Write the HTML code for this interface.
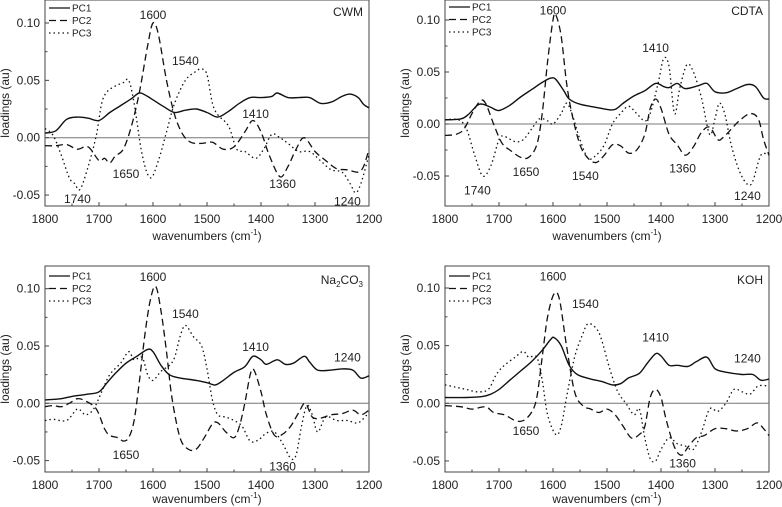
<!DOCTYPE html>
<html><head><meta charset="utf-8"><style>
html,body{margin:0;padding:0;background:#fff;}
svg{display:block;font-family:"Liberation Sans",Arial,sans-serif;}
</style></head><body>
<svg id="chart" width="782" height="507" viewBox="0 0 782 507" xmlns="http://www.w3.org/2000/svg"></svg>
<script>
// ---- data (wavenumber / loading pairs) ----
const xTicks = [1800,1700,1600,1500,1400,1300,1200];
const yTicks = [-0.05,0.00,0.05,0.10];
const panelTitles = ["CWM","CDTA","Na2CO3","KOH"];

const cwmPC1 = [[1800,0.004],[1780,0.006],[1760,0.016],[1740,0.018],[1720,0.017],[1700,0.015],[1680,0.022],[1660,0.028],[1640,0.034],[1625,0.039],[1610,0.036],[1600,0.033],[1580,0.027],[1560,0.022],[1540,0.024],[1520,0.025],[1500,0.022],[1480,0.018],[1460,0.023],[1440,0.030],[1420,0.035],[1400,0.035],[1380,0.036],[1370,0.039],[1350,0.035],[1330,0.035],[1310,0.035],[1290,0.030],[1270,0.031],[1250,0.036],[1235,0.038],[1220,0.035],[1210,0.029],[1200,0.026]];
const cwmPC2 = [[1800,-0.007],[1780,-0.007],[1760,-0.006],[1740,-0.010],[1720,-0.008],[1700,-0.020],[1690,-0.018],[1680,-0.022],[1670,-0.016],[1655,-0.010],[1640,0.010],[1625,0.040],[1610,0.080],[1600,0.100],[1590,0.090],[1575,0.050],[1560,0.020],[1545,0.003],[1530,-0.004],[1510,-0.005],[1490,-0.004],[1470,-0.010],[1450,-0.008],[1430,0.005],[1415,0.015],[1400,0.005],[1385,-0.015],[1365,-0.034],[1350,-0.025],[1335,-0.010],[1320,0.000],[1300,-0.012],[1280,-0.020],[1260,-0.027],[1240,-0.028],[1220,-0.030],[1210,-0.025],[1200,-0.010]];
const cwmPC3 = [[1800,0.008],[1785,0.002],[1770,-0.015],[1755,-0.035],[1745,-0.040],[1735,-0.045],[1720,-0.025],[1705,0.002],[1695,0.030],[1685,0.040],[1670,0.045],[1655,0.048],[1645,0.050],[1635,0.030],[1620,-0.015],[1605,-0.035],[1590,-0.020],[1575,0.005],[1560,0.030],[1540,0.050],[1520,0.058],[1510,0.060],[1500,0.055],[1490,0.030],[1480,0.020],[1460,0.010],[1445,-0.010],[1430,-0.012],[1410,-0.018],[1395,-0.010],[1380,0.003],[1365,0.000],[1350,-0.005],[1330,-0.012],[1310,-0.012],[1290,-0.020],[1270,-0.028],[1250,-0.030],[1235,-0.040],[1225,-0.048],[1215,-0.040],[1200,-0.015]];

const cdtaPC1 = [[1800,0.004],[1770,0.005],[1755,0.010],[1740,0.018],[1730,0.019],[1715,0.016],[1700,0.013],[1680,0.018],[1660,0.026],[1640,0.033],[1620,0.040],[1605,0.044],[1595,0.043],[1580,0.032],[1570,0.024],[1550,0.019],[1520,0.016],[1500,0.014],[1485,0.014],[1470,0.020],[1450,0.027],[1430,0.032],[1410,0.039],[1395,0.036],[1385,0.035],[1370,0.039],[1355,0.034],[1330,0.037],[1315,0.039],[1300,0.031],[1280,0.030],[1260,0.034],[1240,0.038],[1225,0.036],[1210,0.025],[1200,0.024]];
const cdtaPC2 = [[1800,-0.011],[1780,-0.010],[1765,-0.005],[1750,0.010],[1735,0.022],[1725,0.020],[1710,0.000],[1695,-0.018],[1680,-0.025],[1660,-0.032],[1645,-0.032],[1630,-0.020],[1620,0.010],[1610,0.060],[1600,0.100],[1595,0.105],[1585,0.085],[1575,0.040],[1565,0.010],[1550,-0.020],[1535,-0.033],[1520,-0.037],[1505,-0.030],[1490,-0.020],[1475,-0.021],[1460,-0.028],[1445,-0.025],[1430,-0.010],[1420,0.015],[1410,0.024],[1400,0.015],[1385,-0.010],[1370,-0.020],[1355,-0.030],[1340,-0.022],[1325,-0.008],[1310,-0.003],[1295,-0.015],[1285,-0.013],[1270,-0.005],[1255,0.003],[1235,0.010],[1220,0.005],[1210,-0.015],[1200,-0.030]];
const cdtaPC3 = [[1800,0.004],[1775,0.004],[1760,-0.005],[1745,-0.030],[1730,-0.050],[1715,-0.040],[1700,-0.015],[1690,-0.012],[1670,-0.017],[1655,-0.015],[1640,-0.005],[1625,0.005],[1610,0.003],[1600,0.000],[1585,0.010],[1575,0.020],[1565,0.010],[1550,-0.015],[1535,-0.033],[1520,-0.030],[1505,-0.020],[1490,0.000],[1475,0.010],[1460,0.017],[1445,0.010],[1430,0.003],[1420,0.010],[1405,0.040],[1395,0.063],[1385,0.055],[1375,0.010],[1365,0.035],[1352,0.057],[1340,0.050],[1325,0.025],[1310,-0.010],[1300,0.005],[1292,0.020],[1282,0.010],[1270,-0.020],[1255,-0.045],[1240,-0.058],[1230,-0.055],[1215,-0.030],[1200,-0.030]];

const naPC1 = [[1800,0.003],[1770,0.004],[1750,0.006],[1720,0.008],[1700,0.010],[1685,0.018],[1670,0.026],[1650,0.035],[1630,0.041],[1610,0.047],[1600,0.045],[1585,0.033],[1570,0.025],[1550,0.022],[1520,0.020],[1500,0.018],[1485,0.016],[1470,0.020],[1450,0.027],[1430,0.032],[1415,0.041],[1400,0.038],[1390,0.034],[1370,0.038],[1355,0.034],[1340,0.035],[1320,0.041],[1310,0.036],[1295,0.029],[1270,0.029],[1250,0.030],[1230,0.029],[1215,0.022],[1200,0.024]];
const naPC2 = [[1800,-0.003],[1785,-0.002],[1770,-0.003],[1755,0.000],[1740,0.004],[1725,0.002],[1705,-0.005],[1690,-0.022],[1680,-0.028],[1665,-0.030],[1655,-0.033],[1645,-0.030],[1635,-0.015],[1625,0.020],[1615,0.060],[1605,0.090],[1595,0.102],[1585,0.080],[1575,0.045],[1565,0.005],[1550,-0.030],[1535,-0.040],[1520,-0.040],[1505,-0.030],[1490,-0.018],[1480,-0.017],[1465,-0.025],[1450,-0.030],[1440,-0.020],[1430,0.000],[1420,0.025],[1413,0.029],[1400,0.010],[1390,-0.010],[1375,-0.028],[1360,-0.027],[1345,-0.020],[1330,-0.008],[1318,0.000],[1305,-0.012],[1290,-0.013],[1270,-0.010],[1250,-0.009],[1230,-0.006],[1215,-0.010],[1200,-0.006]];
const naPC3 = [[1800,-0.015],[1785,-0.014],[1760,-0.015],[1740,-0.005],[1725,-0.010],[1710,-0.005],[1695,0.010],[1680,0.025],[1660,0.035],[1645,0.045],[1635,0.038],[1620,0.040],[1610,0.025],[1600,0.020],[1585,0.028],[1570,0.033],[1560,0.040],[1550,0.058],[1540,0.068],[1525,0.058],[1510,0.050],[1500,0.030],[1490,0.003],[1480,-0.010],[1465,-0.012],[1450,-0.015],[1435,-0.020],[1420,-0.033],[1405,-0.032],[1390,-0.026],[1375,-0.025],[1360,-0.035],[1345,-0.048],[1335,-0.045],[1325,-0.020],[1315,-0.002],[1305,-0.010],[1295,-0.025],[1280,-0.012],[1260,-0.015],[1240,-0.015],[1220,-0.017],[1200,-0.008]];

const kohPC1 = [[1800,0.005],[1760,0.005],[1730,0.006],[1715,0.008],[1700,0.012],[1680,0.020],[1660,0.028],[1640,0.036],[1620,0.046],[1605,0.055],[1598,0.057],[1585,0.050],[1570,0.033],[1555,0.025],[1530,0.021],[1510,0.019],[1490,0.016],[1475,0.017],[1460,0.022],[1440,0.026],[1425,0.035],[1410,0.043],[1400,0.041],[1385,0.033],[1370,0.033],[1350,0.032],[1335,0.036],[1315,0.040],[1300,0.030],[1280,0.027],[1250,0.025],[1230,0.025],[1215,0.020],[1200,0.021]];
const kohPC2 = [[1800,-0.002],[1770,-0.003],[1750,-0.005],[1725,-0.003],[1710,-0.008],[1690,-0.010],[1670,-0.015],[1655,-0.015],[1640,-0.008],[1630,0.005],[1620,0.040],[1610,0.075],[1598,0.095],[1588,0.090],[1575,0.050],[1560,0.010],[1545,-0.002],[1530,-0.005],[1515,-0.008],[1500,-0.005],[1485,-0.010],[1470,-0.020],[1455,-0.030],[1440,-0.027],[1430,-0.020],[1420,0.005],[1410,0.012],[1400,0.005],[1390,-0.015],[1375,-0.038],[1362,-0.045],[1350,-0.038],[1335,-0.030],[1320,-0.028],[1300,-0.022],[1280,-0.022],[1260,-0.024],[1240,-0.022],[1222,-0.017],[1210,-0.022],[1200,-0.028]];
const kohPC3 = [[1800,0.016],[1780,0.014],[1760,0.012],[1740,0.010],[1720,0.012],[1705,0.025],[1690,0.033],[1670,0.040],[1655,0.045],[1645,0.040],[1630,0.040],[1620,0.020],[1610,-0.010],[1595,-0.027],[1585,-0.020],[1575,0.005],[1560,0.040],[1545,0.060],[1535,0.069],[1520,0.065],[1510,0.055],[1495,0.030],[1480,0.010],[1465,0.000],[1450,-0.010],[1440,-0.005],[1430,-0.030],[1420,-0.048],[1410,-0.050],[1400,-0.040],[1385,-0.030],[1370,-0.035],[1355,-0.037],[1340,-0.040],[1325,-0.025],[1310,-0.005],[1295,-0.007],[1280,0.000],[1265,0.012],[1250,0.010],[1235,0.008],[1220,0.015],[1200,0.015]];

// [text, wavenumber, loading at label centre]
const cwmLabels = [["1600",1600,0.107],["1540",1540,0.067],["1410",1410,0.0205],["1650",1650,-0.0315],["1740",1740,-0.0535],["1360",1360,-0.0405],["1240",1240,-0.0555]];
const cdtaLabels = [["1600",1600,0.109],["1410",1410,0.073],["1740",1740,-0.064],["1650",1650,-0.046],["1540",1540,-0.050],["1360",1360,-0.043],["1240",1240,-0.069]];
const naLabels = [["1600",1600,0.110],["1540",1540,0.078],["1410",1410,0.049],["1240",1240,0.040],["1650",1650,-0.045],["1360",1360,-0.055]];
const kohLabels = [["1600",1600,0.110],["1540",1540,0.086],["1410",1410,0.057],["1240",1240,0.039],["1650",1650,-0.024],["1360",1360,-0.052]];

const panels = [
  {title:panelTitles[0], l:45, r:369, top:0, bot:206, y0:137.7, yHi:23, s:[cwmPC1,cwmPC2,cwmPC3], labels:cwmLabels, legY:8, tickY:219, titleY:240, yTitleX:9},
  {title:panelTitles[1], l:445, r:769, top:0, bot:206, y0:124, yHi:20, s:[cdtaPC1,cdtaPC2,cdtaPC3], labels:cdtaLabels, legY:7, tickY:219, titleY:240, yTitleX:409},
  {title:panelTitles[2], l:45, r:369, top:266, bot:472, y0:403.3, yHi:288.7, s:[naPC1,naPC2,naPC3], labels:naLabels, legY:276, tickY:485, titleY:503, yTitleX:9},
  {title:panelTitles[3], l:445, r:769, top:266, bot:472, y0:403.3, yHi:288, s:[kohPC1,kohPC2,kohPC3], labels:kohLabels, legY:276, tickY:485, titleY:503, yTitleX:409}
];
const dashes = ["", "7,4", "1.5,3"];
const svg = document.getElementById('chart');
const NS = "http://www.w3.org/2000/svg";
function mk(tag, attrs, parent){const e=document.createElementNS(NS,tag);for(const k in attrs)e.setAttribute(k,attrs[k]);(parent||svg).appendChild(e);return e;}
function smooth(pts){
  let d='M'+pts[0][0].toFixed(1)+','+pts[0][1].toFixed(1);
  for(let i=0;i<pts.length-1;i++){
    const p0=pts[Math.max(0,i-1)],p1=pts[i],p2=pts[i+1],p3=pts[Math.min(pts.length-1,i+2)];
    const c1x=p1[0]+(p2[0]-p0[0])/6,c1y=p1[1]+(p2[1]-p0[1])/6;
    const c2x=p2[0]-(p3[0]-p1[0])/6,c2y=p2[1]-(p3[1]-p1[1])/6;
    d+=` C${c1x.toFixed(1)},${c1y.toFixed(1)} ${c2x.toFixed(1)},${c2y.toFixed(1)} ${p2[0].toFixed(1)},${p2[1].toFixed(1)}`;
  }
  return d;
}

panels.forEach((p,pi)=>{
  const g = mk('g',{});
  
  
  const xs = wn => p.l + (1800-wn)/600*(p.r-p.l);
  const ys = v => p.y0 - v/0.10*(p.y0-p.yHi);
  const fr = mk('rect',{x:p.l,y:p.top,width:p.r-p.l,height:p.bot-p.top,fill:'none',stroke:'#444','stroke-width':1},g);
  
  
  const zl = mk('line',{x1:p.l,x2:p.r,y1:ys(0),y2:ys(0),stroke:'#777','stroke-width':1},g);
  
  
  for(let w=1800; w>=1200; w-=50){
    const major = w%100===0;
    mk('line',{x1:xs(w),x2:xs(w),y1:p.bot,y2:p.bot-(major?4:2.5),stroke:'#444','stroke-width':1},g);
  }
  xTicks.forEach(w=>{
    const t = mk('text',{x:xs(w),y:p.tickY+4,'text-anchor':'middle','font-size':12,fill:'#222'},g);
    t.textContent = w;
    
    
  });
  yTicks.forEach(v=>{
    mk('line',{x1:p.l,x2:p.l+4,y1:ys(v),y2:ys(v),stroke:'#444','stroke-width':1},g);
    const t = mk('text',{x:p.l-5,y:ys(v)+4,'text-anchor':'end','font-size':12,fill:'#222'},g);
    t.textContent = v.toFixed(2);
    
    
  });
  for(let v=-0.025; v<0.12; v+=0.05){ mk('line',{x1:p.l,x2:p.l+2.5,y1:ys(v),y2:ys(v),stroke:'#444','stroke-width':1},g); }
  const xt = mk('text',{x:(p.l+p.r)/2,y:p.titleY,'text-anchor':'middle','font-size':12,fill:'#222'},g);
  xt.innerHTML = 'wavenumbers (cm<tspan dy="-5" font-size="8">-1</tspan><tspan dy="5">)</tspan>';
  
  
  const yc = (p.top+p.bot)/2;
  const yt = mk('text',{x:p.yTitleX,y:yc,'text-anchor':'middle','font-size':12,fill:'#222',transform:`rotate(-90 ${p.yTitleX} ${yc})`},g);
  yt.textContent = 'loadings (au)';
  
  
  p.s.forEach((ser,si)=>{
    const d = smooth(ser.map(pt=>[xs(pt[0]),ys(pt[1])]));
    const path = mk('path',{d:d,fill:'none',stroke:'#111','stroke-width':si===0?1.4:1.3,'stroke-dasharray':dashes[si],'stroke-linejoin':'round'},g);
    
    
  });
  ['PC1','PC2','PC3'].forEach((nm,si)=>{
    const ly = p.legY + si*12.5;
    const ll = mk('line',{x1:p.l+4,x2:p.l+25,y1:ly,y2:ly,stroke:'#111','stroke-width':1.3,'stroke-dasharray':dashes[si]},g);
    
    
    const lt = mk('text',{x:p.l+27,y:ly+3.5,'font-size':10,fill:'#222'},g);
    lt.textContent = nm;
    
    
  });
  const tt = mk('text',{x:p.r-6,y:p.legY+8,'text-anchor':'end','font-size':12,fill:'#222'},g);
  if(p.title==='Na2CO3') tt.innerHTML='Na<tspan dy="3" font-size="8">2</tspan><tspan dy="-3">CO</tspan><tspan dy="3" font-size="8">3</tspan>';
  else tt.textContent = p.title;
  
  
  p.labels.forEach(a=>{
    const t = mk('text',{x:xs(a[1]),y:ys(a[2])+4,'text-anchor':'middle','font-size':12,fill:'#222'},g);
    t.textContent = a[0];
    
    
  });
});
</script>
</body></html>
